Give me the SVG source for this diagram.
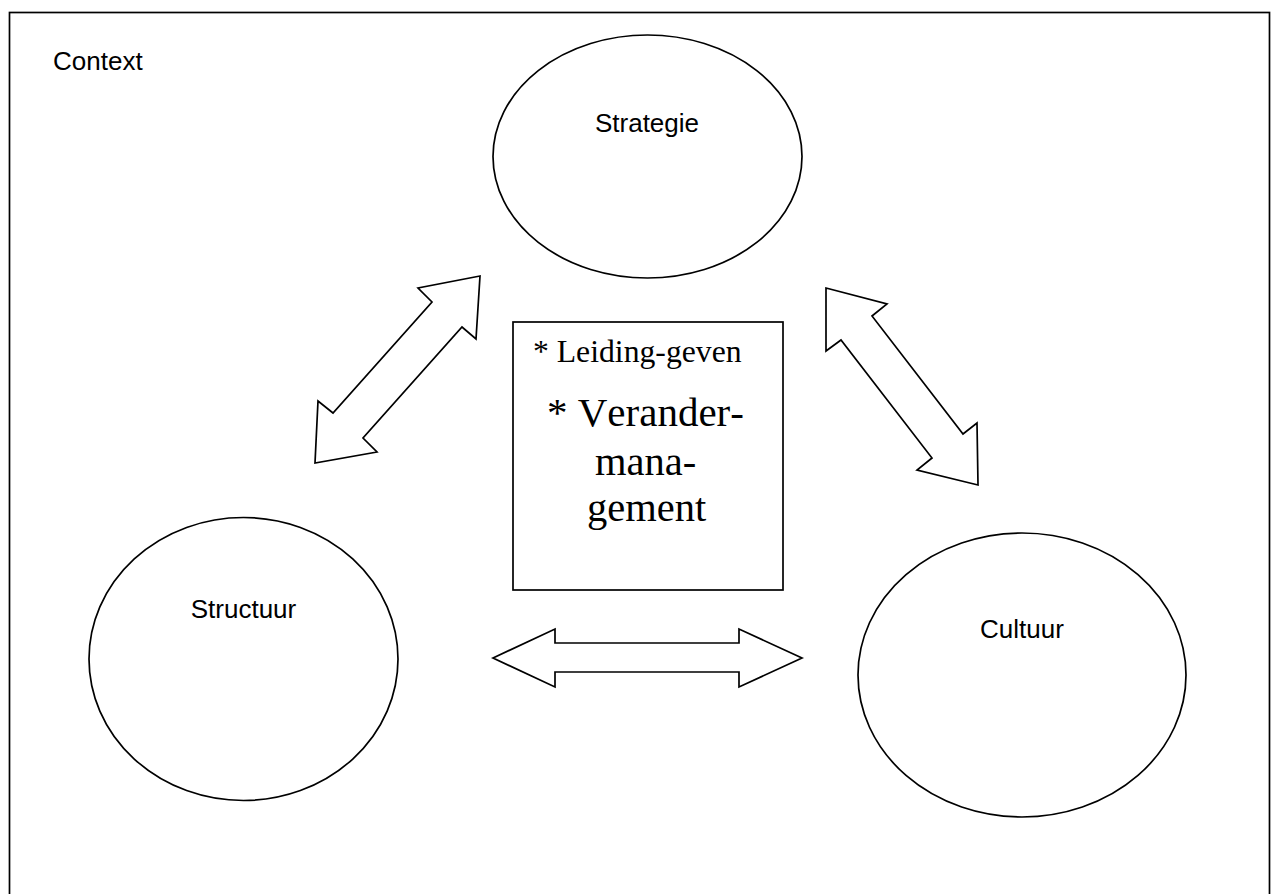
<svg xmlns="http://www.w3.org/2000/svg" width="1271" height="894" viewBox="0 0 1271 894">
<style>
.ln{fill:#fff;stroke:#000;stroke-width:1.7;stroke-linejoin:miter}
.sans{font-family:"Liberation Sans",Arial,sans-serif;font-size:26px;fill:#000}
.serif{font-family:"Liberation Serif","Times New Roman",serif;fill:#000;font-kerning:none}
</style>
<rect width="1271" height="894" fill="#fff"/>
<g id="context">
<rect x="9.5" y="12.5" width="1260" height="900" fill="#fff" stroke="#000" stroke-width="1.7"/>
<text class="sans" x="53" y="70">Context</text>
</g>
<g id="strategie">
<ellipse class="ln" cx="647.5" cy="156.5" rx="154.5" ry="121.5"/>
<text class="sans" x="647" y="132" text-anchor="middle">Strategie</text>
</g>
<g id="structuur">
<ellipse class="ln" cx="243.5" cy="659" rx="154.5" ry="141.5"/>
<text class="sans" x="243.5" y="618" text-anchor="middle">Structuur</text>
</g>
<g id="cultuur">
<ellipse class="ln" cx="1022" cy="675" rx="164" ry="142"/>
<text class="sans" x="1022" y="638" text-anchor="middle">Cultuur</text>
</g>
<g id="centre">
<rect class="ln" x="513" y="322" width="270" height="268"/>
<text class="serif" x="533" y="362" font-size="31.7">* Leiding-geven</text>
<text class="serif" x="547" y="426" font-size="41">* Verander-</text>
<text class="serif" x="595" y="475" font-size="40.5">mana-</text>
<text class="serif" x="587" y="521" font-size="40.5">gement</text>
</g>
<g id="connectors">
<polygon class="ln" points="480,276 418,288 432,302 333,413 318,401 315,463 377,452 363,438 462,327 476,339"/>
<polygon class="ln" points="826,288 887,304 872,316 963,434 977,423 978,485 917,470 932,458 841,340 826,351"/>
<polygon class="ln" points="493,658 555,629 555,643 739,643 739,629 802,658 739,687 739,672 555,672 555,687"/>
</g>
</svg>
